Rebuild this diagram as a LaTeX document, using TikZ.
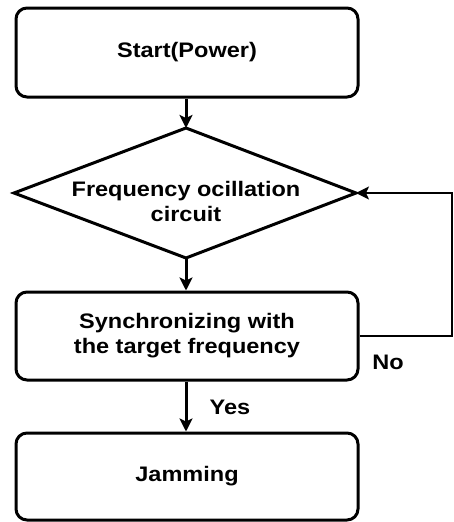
\documentclass[tikz,border=0pt]{standalone}
\usepackage{fontspec}
\setmainfont{Liberation Sans}[FakeStretch=1.12]
\usetikzlibrary{arrows.meta}
\begin{document}
\begin{tikzpicture}[x=1pt,y=-1pt,
  box/.style={draw,line width=3pt,rounded corners=11pt,minimum width=342pt,inner sep=0pt,align=center,font=\fontsize{21}{25}\selectfont\bfseries},
  txt/.style={inner sep=0pt,align=center,font=\fontsize{21}{25}\selectfont\bfseries},
  dline/.style={line width=3pt,line join=miter},
  arr/.style={line width=3pt,-{Stealth[length=13pt,width=13pt,inset=3pt]}},
  fb/.style={line width=1.8pt,-{Stealth[length=13pt,width=13pt,inset=3pt]}},
  lab/.style={font=\fontsize{21}{25}\selectfont\bfseries}]
\useasboundingbox (0,0) rectangle (454,522);
\node[box,minimum height=89pt] (start) at (187,52.5) {Start(Power)};
\coordinate (ot) at (186,128);
\coordinate (ob) at (186,258);
\coordinate (ol) at (14,193);
\coordinate (or) at (356,193);
\draw[dline] (ot) -- (or) -- (ob) -- (ol) -- cycle;
\node[txt] (osc) at (186,201) {Frequency ocillation\\circuit};
\node[box,minimum height=88pt] (sync) at (187,336) {Synchronizing with\\the target frequency};
\node[box,minimum height=87pt] (jam) at (187,476.5) {Jamming};
\coordinate (c1) at (452,336);
\draw[arr] (start.south -| ot) -- (ot);
\draw[arr] (ob) -- (ob |- sync.north);
\draw[arr] (ob |- sync.south) -- (ob |- jam.north);
\draw[fb] (sync.east) -- (c1) |- (or);
\node[lab] (no) at (388,362) {No};
\node[lab] (yes) at (230,407) {Yes};
\end{tikzpicture}
\end{document}
